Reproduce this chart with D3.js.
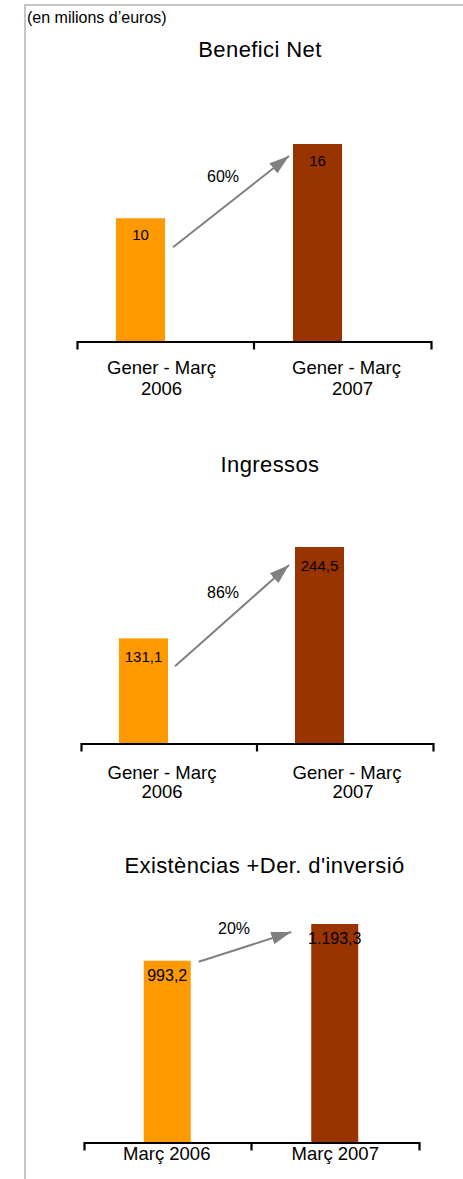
<!DOCTYPE html>
<html>
<head>
<meta charset="utf-8">
<script src="https://cdn.jsdelivr.net/npm/d3@7"></script>
<style>
  html, body { margin: 0; padding: 0; background: #fff; }
  svg { display: block; }
  text { font-family: "Liberation Sans", Arial, sans-serif; fill: #000; }
</style>
</head>
<body>
<svg id="chart" width="463" height="1179"></svg>
<script>
// ---- data ----
const unitNote = "(en milions d’euros)";
const titles = ["Benefici Net", "Ingressos", "Existèncias +Der. d'inversió"];
const periodCategories = ["Gener - Març\n2006", "Gener - Març\n2007"];
const monthCategories = ["Març 2006", "Març 2007"];
const beneficiNet = [10, 16];
const ingressos = [131.1, 244.5];
const existencies = [993.2, 1193.3];
const growthLabels = ["60%", "86%", "20%"];
const valueFormats = [",.0f", ",.1f", ",.1f"];

const barColors = ["#FF9900", "#993300"];

const locale = d3.formatLocale({ decimal: ",", thousands: ".", grouping: [3], currency: ["", " €"] });

// ---- layout (positions only) ----
const panels = [
  { title: titles[0], cats: periodCategories, values: beneficiNet, growth: growthLabels[0], fmt: valueFormats[0],
    titleX: 260, titleY: 57, axisY: 342, x0: 77, x1: 431, maxH: 198, barW: 49, barShift: -25,
    valueSize: 15, valueDy: 22, catY: 374, catLine: 21, catShift: [-4, 4], catLine2Dx: [0, 6],
    arrowStart: [8, 29], arrowEnd: [-4, 12], pctOff: [-8, -20] },
  { title: titles[1], cats: periodCategories, values: ingressos, growth: growthLabels[1], fmt: valueFormats[1],
    titleX: 270, titleY: 472, axisY: 744, x0: 81, x1: 433, maxH: 197, barW: 49, barShift: -25.5,
    valueSize: 15, valueDy: 24, catY: 779, catLine: 19, catShift: [-7, 2], catLine2Dx: [0, 6],
    arrowStart: [7, 28], arrowEnd: [-6, 18], pctOff: [-9, -18] },
  { title: titles[2], cats: monthCategories, values: existencies, growth: growthLabels[2], fmt: valueFormats[2],
    titleX: 264.5, titleY: 873, axisY: 1143, x0: 84, x1: 419, maxH: 219, barW: 47, barShift: -0.5,
    valueSize: 16, valueDy: 20, catY: 1160, catLine: 19, catShift: [-1, 0], catLine2Dx: [0, 0],
    arrowStart: [8, 1], arrowEnd: [-20, 8], pctOff: [-11, -13] }
];

const svg = d3.select("#chart");

// arrow marker
svg.append("defs").append("marker")
  .attr("id", "arrowhead")
  .attr("markerUnits", "userSpaceOnUse")
  .attr("viewBox", "0 -7 20 14")
  .attr("refX", 20).attr("refY", 0)
  .attr("markerWidth", 20).attr("markerHeight", 14)
  .attr("orient", "auto")
  .append("path")
  .attr("d", "M0,-6.5L20,0L0,6.5Z")
  .attr("fill", "#808080");

// frame
svg.append("line").attr("x1", 24).attr("x2", 463).attr("y1", 5).attr("y2", 5)
  .attr("stroke", "#c6c6c6").attr("stroke-width", 2);
svg.append("line").attr("x1", 25).attr("x2", 25).attr("y1", 4).attr("y2", 1179)
  .attr("stroke", "#c6c6c6").attr("stroke-width", 2);

svg.append("text").attr("x", 27).attr("y", 23)
  .style("font-size", "16px").text(unitNote);

panels.forEach(p => {
  const g = svg.append("g");
  const x = d3.scaleBand().domain(p.cats).range([p.x0, p.x1]).paddingInner(0).paddingOuter(0);
  const y = d3.scaleLinear().domain([0, d3.max(p.values)]).range([p.axisY, p.axisY - p.maxH]);
  const fmt = locale.format(p.fmt);
  const barX = (c) => x(c) + x.bandwidth() / 2 + p.barShift - p.barW / 2;

  // title
  g.append("text").attr("x", p.titleX).attr("y", p.titleY)
    .attr("text-anchor", "middle")
    .style("font-size", "22px").style("letter-spacing", "0.4px")
    .text(p.title);

  // bars
  g.selectAll("rect.bar").data(p.values).join("rect")
    .attr("class", "bar")
    .attr("x", (d, i) => barX(p.cats[i]))
    .attr("width", p.barW)
    .attr("y", d => y(d))
    .attr("height", d => y(0) - y(d))
    .attr("fill", (d, i) => barColors[i]);

  // value labels
  g.selectAll("text.val").data(p.values).join("text")
    .attr("class", "val")
    .attr("x", (d, i) => barX(p.cats[i]) + p.barW / 2)
    .attr("y", d => y(d) + p.valueDy)
    .attr("text-anchor", "middle")
    .style("font-size", p.valueSize + "px")
    .text(d => fmt(d));

  // axis
  const axis = d3.axisBottom(x).tickSizeInner(0).tickSizeOuter(8).tickFormat("");
  const ax = g.append("g").attr("transform", `translate(0,${p.axisY - 0.5})`).call(axis);
  ax.select(".domain").attr("stroke", "#000").attr("stroke-width", 2.2);
  ax.selectAll(".tick").remove();
  ax.append("line")
    .attr("x1", x(p.cats[1])).attr("x2", x(p.cats[1]))
    .attr("y1", 0).attr("y2", 8)
    .attr("stroke", "#000").attr("stroke-width", 2.2);

  // category labels
  p.cats.forEach((c, i) => {
    const lines = c.split("\n");
    const cx = x(c) + x.bandwidth() / 2 + p.catShift[i];
    const t = g.append("text").attr("text-anchor", "middle").style("font-size", "18.5px");
    lines.forEach((ln, k) => {
      t.append("tspan")
        .attr("x", cx + (k === 1 ? p.catLine2Dx[i] : 0))
        .attr("y", p.catY + k * p.catLine)
        .text(ln);
    });
  });

  // growth arrow
  const sx = barX(p.cats[0]) + p.barW + p.arrowStart[0];
  const sy = y(p.values[0]) + p.arrowStart[1];
  const ex = barX(p.cats[1]) + p.arrowEnd[0];
  const ey = y(p.values[1]) + p.arrowEnd[1];
  g.append("line")
    .attr("x1", sx).attr("y1", sy).attr("x2", ex).attr("y2", ey)
    .attr("stroke", "#808080").attr("stroke-width", 2)
    .attr("marker-end", "url(#arrowhead)");

  g.append("text")
    .attr("x", (sx + ex) / 2 + p.pctOff[0])
    .attr("y", (sy + ey) / 2 + p.pctOff[1])
    .attr("text-anchor", "middle")
    .style("font-size", "16px")
    .text(p.growth);
});
</script>
</body>
</html>
